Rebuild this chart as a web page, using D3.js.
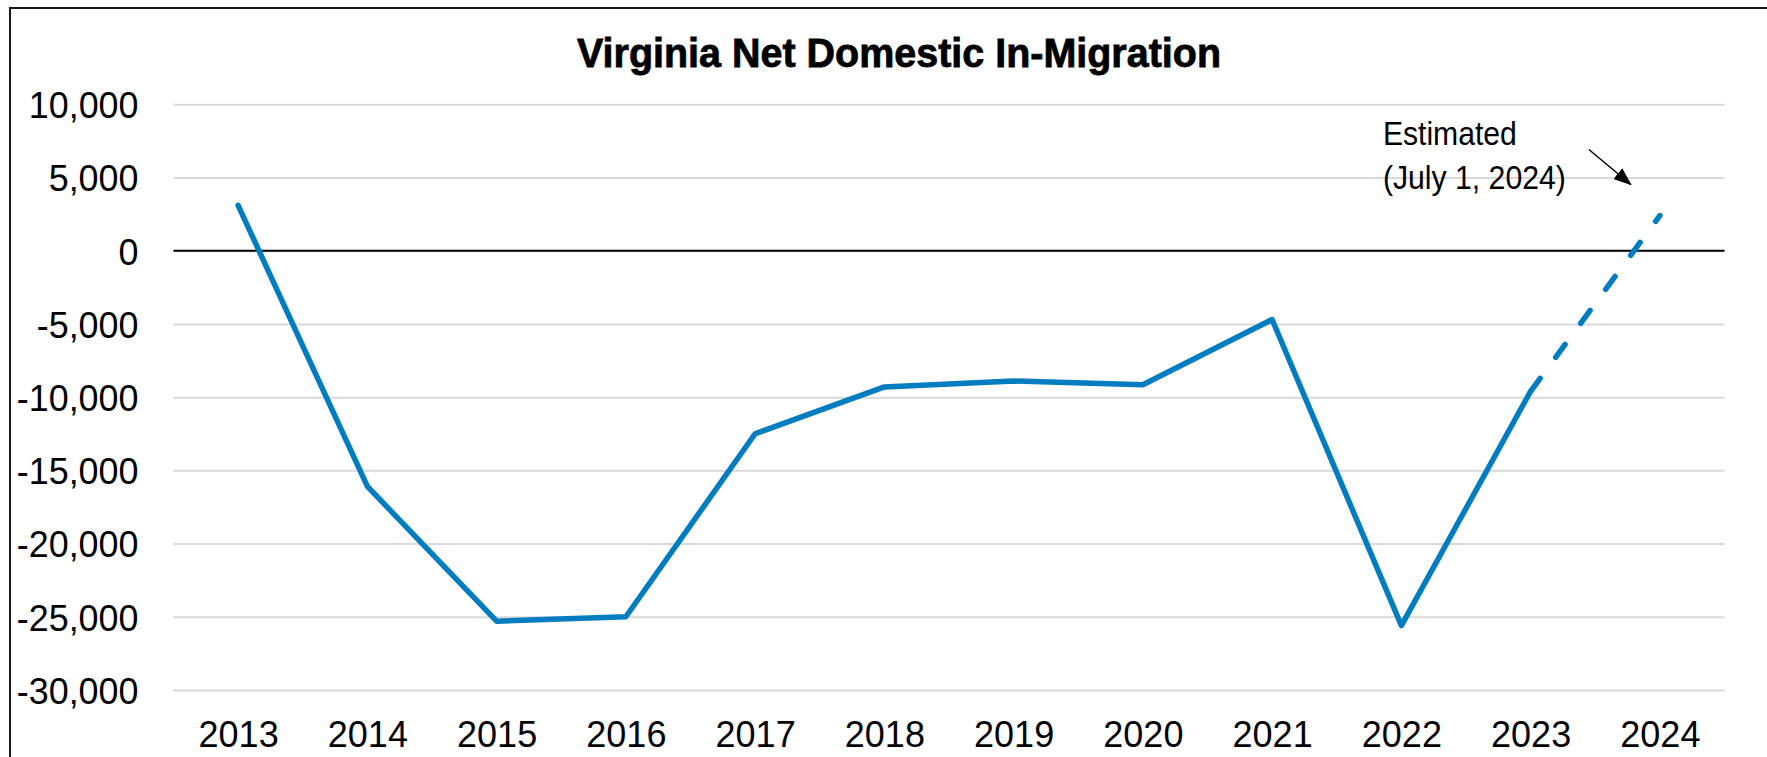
<!DOCTYPE html>
<html><head><meta charset="utf-8">
<script src="https://cdn.jsdelivr.net/npm/d3@7"></script>
<style>
body{margin:0;background:#fff;overflow:hidden}
text{font-family:"Liberation Sans",Arial,sans-serif;fill:#000}
</style>
</head><body>
<svg id="c" width="1767" height="757"></svg>
<script>
const years = ["2013","2014","2015","2016","2017","2018","2019","2020","2021","2022","2023","2024"];
const netMigration = [3100,-16100,-25300,-25000,-12500,-9300,-8900,-9150,-4700,-25600,-9600,2400];
const yTicks = [10000,5000,0,-5000,-10000,-15000,-20000,-25000,-30000];
const estimatedFrom = "2023";
const titleText = "Virginia Net Domestic In-Migration";
const noteLines = ["Estimated","(July 1, 2024)"];

(function(){
const W = 1767, H = 757;
const pLeft = 173.5, pRight = 1724.5, pTop = 104.3, pBottom = 690;
const svg = d3.select("#c");

// frame
svg.append("rect").attr("x",10).attr("y",8).attr("width",W+20).attr("height",H+20)
  .attr("fill","none").attr("stroke","#1a1a1a").attr("stroke-width",2);

const x = d3.scalePoint().domain(years).range([pLeft,pRight]).padding(0.5);
const y = d3.scaleLinear().domain([-30000,10000]).range([pBottom,pTop]);

const loc = d3.formatLocale({decimal:".",thousands:",",grouping:[3],currency:["$",""],minus:"-"});
const fmt = loc.format(",");

// y axis with gridlines
const gy = svg.append("g").attr("transform",`translate(${pLeft},0)`)
  .call(d3.axisLeft(y).tickValues(yTicks).tickFormat(fmt).tickSize(-(pRight-pLeft)).tickPadding(35));
gy.select(".domain").remove();
gy.selectAll(".tick line").attr("stroke","#d9d9d9").attr("stroke-width",2);
gy.selectAll(".tick text").attr("font-size",37).attr("font-family",'"Liberation Sans",Arial,sans-serif')
  .attr("fill","#000").attr("dy","0.36em")
  .each(function(){ const t=d3.select(this); t.attr("textLength", this.getComputedTextLength()*0.97).attr("lengthAdjust","spacingAndGlyphs"); });

// zero line
svg.append("line").attr("x1",pLeft).attr("x2",pRight).attr("y1",y(0)).attr("y2",y(0))
  .attr("stroke","#000").attr("stroke-width",2);

// x axis
const gx = svg.append("g").attr("transform",`translate(0,${pBottom})`)
  .call(d3.axisBottom(x).tickSize(0).tickPadding(0));
gx.select(".domain").remove();
gx.selectAll(".tick text").attr("font-size",36).attr("font-family",'"Liberation Sans",Arial,sans-serif')
  .attr("fill","#000").attr("y",57).attr("dy",0);

// data
const data = years.map((yr,i)=>({yr, v: netMigration[i]}));
const idx = years.indexOf(estimatedFrom);
const line = d3.line().x(d=>x(d.yr)).y(d=>y(d.v));
const blue = "#007dc1";
svg.append("path").datum(data.slice(0,idx+1)).attr("d",line)
  .attr("fill","none").attr("stroke",blue).attr("stroke-width",5.5)
  .attr("stroke-linejoin","round").attr("stroke-linecap","round");
svg.append("path").datum(data.slice(idx)).attr("d",line)
  .attr("fill","none").attr("stroke",blue).attr("stroke-width",5.5)
  .attr("stroke-linecap","round").attr("stroke-dasharray","16,26.2");

// title
svg.append("text").attr("x",899).attr("y",67).attr("text-anchor","middle")
  .attr("font-family",'"Liberation Sans Narrow","Arial Narrow","DejaVu Sans Condensed",sans-serif')
  .attr("font-weight","bold").attr("font-size",40)
  .attr("stroke","#000").attr("stroke-width",0.8)
  .attr("textLength",644).attr("lengthAdjust","spacingAndGlyphs").text(titleText);

// annotation
const last = years[years.length-1];
const nx = x(last) - 277;
svg.append("text").attr("x",nx).attr("y",145).attr("font-size",34)
  .attr("textLength",134).attr("lengthAdjust","spacingAndGlyphs").text(noteLines[0]);
svg.append("text").attr("x",nx).attr("y",189).attr("font-size",34)
  .attr("textLength",183).attr("lengthAdjust","spacingAndGlyphs").text(noteLines[1]);

// arrow
const defs = svg.append("defs");
defs.append("marker").attr("id","ah").attr("viewBox","0 0 18 14").attr("refX",17).attr("refY",7)
  .attr("markerWidth",18).attr("markerHeight",14).attr("markerUnits","userSpaceOnUse")
  .attr("orient","auto").append("path").attr("d","M0,0 L18,7 L0,14 Z").attr("fill","#000");
const tipX = x(last) - 29, tipY = y(5000) + 7;
svg.append("line").attr("x1",tipX-42).attr("y1",tipY-35).attr("x2",tipX).attr("y2",tipY)
  .attr("stroke","#000").attr("stroke-width",1.5).attr("marker-end","url(#ah)");
})();
</script>
</body></html>
